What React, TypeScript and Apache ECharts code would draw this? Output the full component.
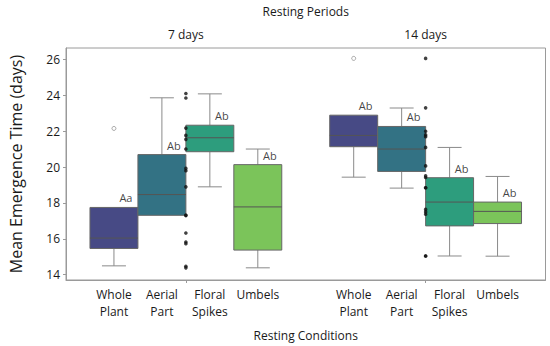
import React, { useEffect, useRef } from "react";
import * as echarts from "echarts";

const periods = ["7 days", "14 days"];
const conditions = ["Whole\nPlant", "Aerial\nPart", "Floral\nSpikes", "Umbels"];
const boxColors = ["#474a85", "#337284", "#2d9d7d", "#7bc45a"];

// [lower whisker, Q1, median, Q3, upper whisker]
const stats7 = [
  [14.49, 15.46, 16.04, 17.75, 17.75],
  [17.31, 17.31, 18.47, 20.7, 23.87],
  [18.9, 20.86, 21.64, 22.34, 24.09],
  [14.38, 15.37, 17.78, 20.14, 21.01],
];
const stats14 = [
  [19.44, 21.14, 21.77, 22.9, 22.9],
  [18.83, 19.76, 21.01, 22.27, 23.3],
  [15.04, 16.72, 18.05, 19.41, 21.1],
  [15.03, 16.85, 17.53, 18.05, 19.48],
];
const outliers7 = [[0, 22.16]];
const outliers14 = [[0, 26.07]];
const letters7 = ["Aa", "Ab", "Ab", "Ab"];
const letters14 = ["Ab", "Ab", "Ab", "Ab"];
const points7 = [24.11, 23.86, 22.18, 21.77, 21.55, 21.01, 19.93, 19.8, 18.9, 17.31, 17.31, 16.32, 15.82, 15.73, 14.47, 14.38];
const points14 = [26.07, 23.31, 22.0, 21.8, 21.7, 21.1, 20.07, 19.51, 19.42, 18.85, 18.85, 17.64, 17.5, 17.37, 15.04, 15.04];
const yTicks = [14, 16, 18, 20, 22, 24, 26];

const FONT = "Open Sans";
const BOX_W = 0.2;
const offsetOf = (i: number) => (i - 1.5) * BOX_W;

export default function App() {
  const ref = useRef<HTMLDivElement>(null);
  useEffect(() => {
    if (!ref.current) return;
    const chart = echarts.init(ref.current, null, { renderer: "svg" });
    const allStats = [stats7, stats14];
    const boxData: any[] = [];
    allStats.forEach((st, g) =>
      st.forEach((s, i) => boxData.push([g + offsetOf(i), ...s, i]))
    );
    const outData: any[] = [];
    [outliers7, outliers14].forEach((o, g) =>
      o.forEach(([i, v]) => outData.push([g + offsetOf(i), v]))
    );
    const dotData: any[] = [];
    [points7, points14].forEach((p, g) => p.forEach((v) => dotData.push([g, v])));
    const letterData: any[] = [];
    [letters7, letters14].forEach((l, g) =>
      l.forEach((t, i) => letterData.push({ value: [g + offsetOf(i) + 0.05, allStats[g][i][3]], name: t }))
    );
    const labelPositions: number[] = [];
    const labelNames: Record<string, string> = {};
    periods.forEach((_, g) =>
      conditions.forEach((c, i) => {
        const p = +(g + offsetOf(i)).toFixed(2);
        labelPositions.push(p);
        labelNames[String(p)] = c;
      })
    );
    const lineColor = "#666";
    const whiskerColor = "#8a8a8a";
    const axisColor = "#9a9a9a";

    chart.setOption({
      animation: false,
      textStyle: { fontFamily: FONT },
      grid: { left: 63.5, right: 4.5, top: 44, bottom: 63, show: true, borderColor: axisColor, borderWidth: 1 },
      xAxis: [
        {
          type: "value",
          min: -0.5,
          max: 1.5,
          splitLine: { show: false },
          axisLine: { show: true, onZero: false, lineStyle: { color: axisColor } },
          axisTick: { show: true, customValues: [0, 1], length: 3, lineStyle: { color: axisColor } },
          axisLabel: {
            customValues: labelPositions,
            formatter: (v: number) => labelNames[String(+v.toFixed(2))] || "",
            color: "#1a1a1a",
            fontSize: 12,
            lineHeight: 17,
            margin: 6,
            fontFamily: FONT,
          },
          name: "Resting Conditions",
          nameLocation: "middle",
          nameGap: 49,
          nameTextStyle: { fontSize: 12, color: "#1a1a1a", fontFamily: FONT },
        },
        {
          type: "value",
          position: "top",
          min: -0.5,
          max: 1.5,
          splitLine: { show: false },
          axisLine: { show: false, onZero: false },
          axisTick: { show: false },
          axisLabel: {
            customValues: [0, 1],
            formatter: (v: number) => periods[Math.round(v)],
            color: "#1a1a1a",
            fontSize: 12,
            margin: 8,
            fontFamily: FONT,
          },
          name: "Resting Periods",
          nameLocation: "middle",
          nameGap: 31,
          nameTextStyle: { fontSize: 12, color: "#1a1a1a", fontFamily: FONT },
        },
      ],
      yAxis: {
        type: "value",
        min: 13.7,
        max: 26.65,
        splitLine: { show: false },
        axisLine: { show: true, onZero: false, lineStyle: { color: axisColor } },
        axisTick: { show: true, customValues: yTicks, length: 3, lineStyle: { color: axisColor } },
        axisLabel: { customValues: yTicks, color: "#1a1a1a", fontSize: 12, margin: 6, fontFamily: FONT },
        name: "Mean Emergence Time (days)",
        nameLocation: "middle",
        nameGap: 42,
        nameTextStyle: { fontSize: 16, color: "#1a1a1a", fontFamily: FONT },
      },
      series: [
        {
          type: "custom",
          data: boxData,
          z: 2,
          renderItem: (params: any, api: any) => {
            const x = api.value(0);
            const lo = api.value(1), q1 = api.value(2), med = api.value(3), q3 = api.value(4), hi = api.value(5);
            const ci = api.value(6);
            const w = api.size([BOX_W, 0])[0];
            const pLo = api.coord([x, lo]);
            const pQ1 = api.coord([x, q1]);
            const pMed = api.coord([x, med]);
            const pQ3 = api.coord([x, q3]);
            const pHi = api.coord([x, hi]);
            const cx = pMed[0];
            const children: any[] = [];
            const wl = (y1: number, y2: number) => ({
              type: "line",
              shape: { x1: cx, y1, x2: cx, y2 },
              style: { stroke: whiskerColor, lineWidth: 1 },
            });
            const cap = (y: number) => ({
              type: "line",
              shape: { x1: cx - w / 4, y1: y, x2: cx + w / 4, y2: y },
              style: { stroke: whiskerColor, lineWidth: 1 },
            });
            if (hi > q3) children.push(wl(pQ3[1], pHi[1]), cap(pHi[1]));
            if (lo < q1) children.push(wl(pQ1[1], pLo[1]), cap(pLo[1]));
            children.push({
              type: "rect",
              shape: { x: cx - w / 2, y: pQ3[1], width: w, height: pQ1[1] - pQ3[1] },
              style: { fill: boxColors[ci], stroke: lineColor, lineWidth: 1 },
            });
            children.push({
              type: "line",
              shape: { x1: cx - w / 2, y1: pMed[1], x2: cx + w / 2, y2: pMed[1] },
              style: { stroke: "#555", lineWidth: 1 },
            });
            return { type: "group", children };
          },
        },
        {
          type: "scatter",
          data: outData,
          symbol: "circle",
          symbolSize: 4,
          itemStyle: { color: "#fff", borderColor: "#777", borderWidth: 0.8 },
          z: 3,
        },
        {
          type: "scatter",
          data: dotData,
          symbol: "circle",
          symbolSize: 3.6,
          itemStyle: { color: "#111" },
          z: 4,
        },
        {
          type: "scatter",
          data: letterData,
          symbolSize: 0,
          z: 5,
          itemStyle: { color: "#111" },
          label: {
            show: true,
            position: "top",
            distance: 4,
            formatter: (p: any) => p.name,
            color: "#111",
            fontSize: 11,
            fontFamily: FONT,
          },
        },
      ],
    });
    return () => chart.dispose();
  }, []);
  return <div ref={ref} style={{ width: 550, height: 346, position: "absolute", left: 0, top: 0 }} />;
}
